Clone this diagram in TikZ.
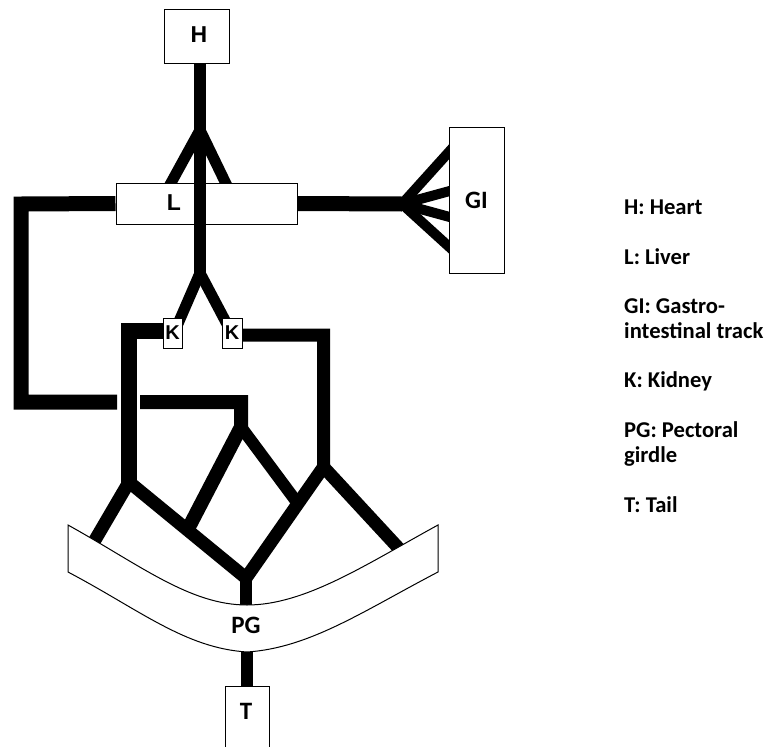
\documentclass[tikz,border=0pt]{standalone}
\usepackage{fontspec}
\setmainfont{Carlito}
\newfontfamily\boxfont{Liberation Sans}
\usetikzlibrary{calc}

\begin{document}
\begin{tikzpicture}[x=1pt, y=-1pt,
        organ/.style={draw, line width=1pt, fill=white, inner sep=0pt},
        vessel/.style={line width=#1}, vessel/.default=13pt,
        boxlbl/.style={inner sep=0pt, font=\boxfont\bfseries\fontsize{23}{26}\selectfont},
        lbl/.style={inner sep=0pt, font=\bfseries\fontsize{25}{28}\selectfont},
        legend/.style={anchor=base west, inner sep=0pt, font=\bfseries\fontsize{22.6}{26}\selectfont}]
        \useasboundingbox (0, 0) rectangle (766, 747);
        % junctions
        \coordinate (hb) at (200, 130);
        \coordinate (kb) at (200, 273);
        \coordinate (gf) at (402, 204);
        \coordinate (lp1) at (21, 204);
        \coordinate (lp2) at (21, 402);
        \coordinate (lp3) at (117, 402);
        \coordinate (lp4) at (140, 402);
        \coordinate (lp5) at (241, 402);
        \coordinate (lj) at (241, 427);
        \coordinate (kl1) at (129, 331);
        \coordinate (ll) at (129, 488);
        \coordinate (kr1) at (323.5, 335);
        \coordinate (rr) at (323.5, 467);
        \coordinate (pc) at (246, 578);
        \coordinate (pgl) at (88, 552);
        \coordinate (pgr) at (404, 554);
        % heart branches into the liver
        \draw[vessel=11pt] (hb) -- (166, 192);
        \draw[vessel=11pt] (hb) -- (230, 192);
        \node[organ, minimum width=181pt, minimum height=41pt] (L) at (206.5, 203.5) {};
        \node[boxlbl] (Ltext) at (174, 203) {L};
        \draw[vessel=12pt] (hb |- 0, 63) -- (kb);
        % liver loop to the girdle
        \draw[vessel=15pt] (L.west) -- (lp1) -- (lp2) -- (lp3);
        \draw[vessel=14pt] (lp4) -- (lp5) -- (lj) -- ($(ll)!0.49!(pc)$);
        \draw[vessel=12pt] (lj) -- ($(rr)!0.33!(pc)$);
        % gut
        \draw[vessel=15pt] (L.east) -- (gf);
        \foreach \y in {143, 189, 219, 254}
            \draw[vessel=10pt] (gf) -- (457, \y);
        % kidneys
        \draw[vessel=11pt] (kb) -- (177, 326);
        \draw[vessel=11pt] (kb) -- (228, 326);
        \draw[vessel=16pt] (172, 331) -- (kl1) -- (ll);
        \draw[vessel=13pt] (pgl) -- ($(ll)+(0, -6)$) -- (pc);
        \draw[vessel=13pt] (232, 335) -- (kr1) -- (rr) -- (pgr);
        \draw[vessel=13pt] (rr) -- (pc);
        \draw[vessel=12pt] (pc) -- (246, 620);
        \draw[vessel=12pt] (247, 640) -- (247, 690);
        % organs
        \node[organ, minimum width=65pt, minimum height=54pt] (H) at (197, 36) {};
        \node[boxlbl] (Htext) at (199, 35) {H};
        \node[organ, minimum width=55pt, minimum height=146pt, lbl] (GI) at (476.5, 200) {GI};
        \node[organ, minimum width=19pt, minimum height=30pt, boxlbl, font=\boxfont\bfseries\fontsize{20}{22}\selectfont] (Kl) at (172.5, 333) {K};
        \node[organ, minimum width=20pt, minimum height=30pt, boxlbl, font=\boxfont\bfseries\fontsize{20}{22}\selectfont] (Kr) at (232, 333) {K};
        \draw[organ] (68, 525) .. controls (140, 565) and (190, 605) .. (247, 605)
            .. controls (305, 605) and (365, 565) .. (438, 525) -- (438, 572)
            .. controls (365, 610) and (310, 648) .. (247, 652)
            .. controls (185, 648) and (140, 610) .. (68, 572) -- cycle;
        \node[lbl] (PG) at (246, 625) {PG};
        \node[organ, minimum width=44pt, minimum height=74pt] (T) at (247, 723) {};
        \node[lbl] (Ttext) at (246, 711) {T};
        % legend
        \foreach \y/\ytext [count=\i] in {214/H: Heart, 264/L: Liver, 313/GI: Gastro-,
                338/intestinal track, 387/K: Kidney, 437/PG: Pectoral, 462/girdle, 512/T: Tail}
            \node[legend] (leg\i) at (624, \y) {\ytext};
    \end{tikzpicture}
\end{document}
